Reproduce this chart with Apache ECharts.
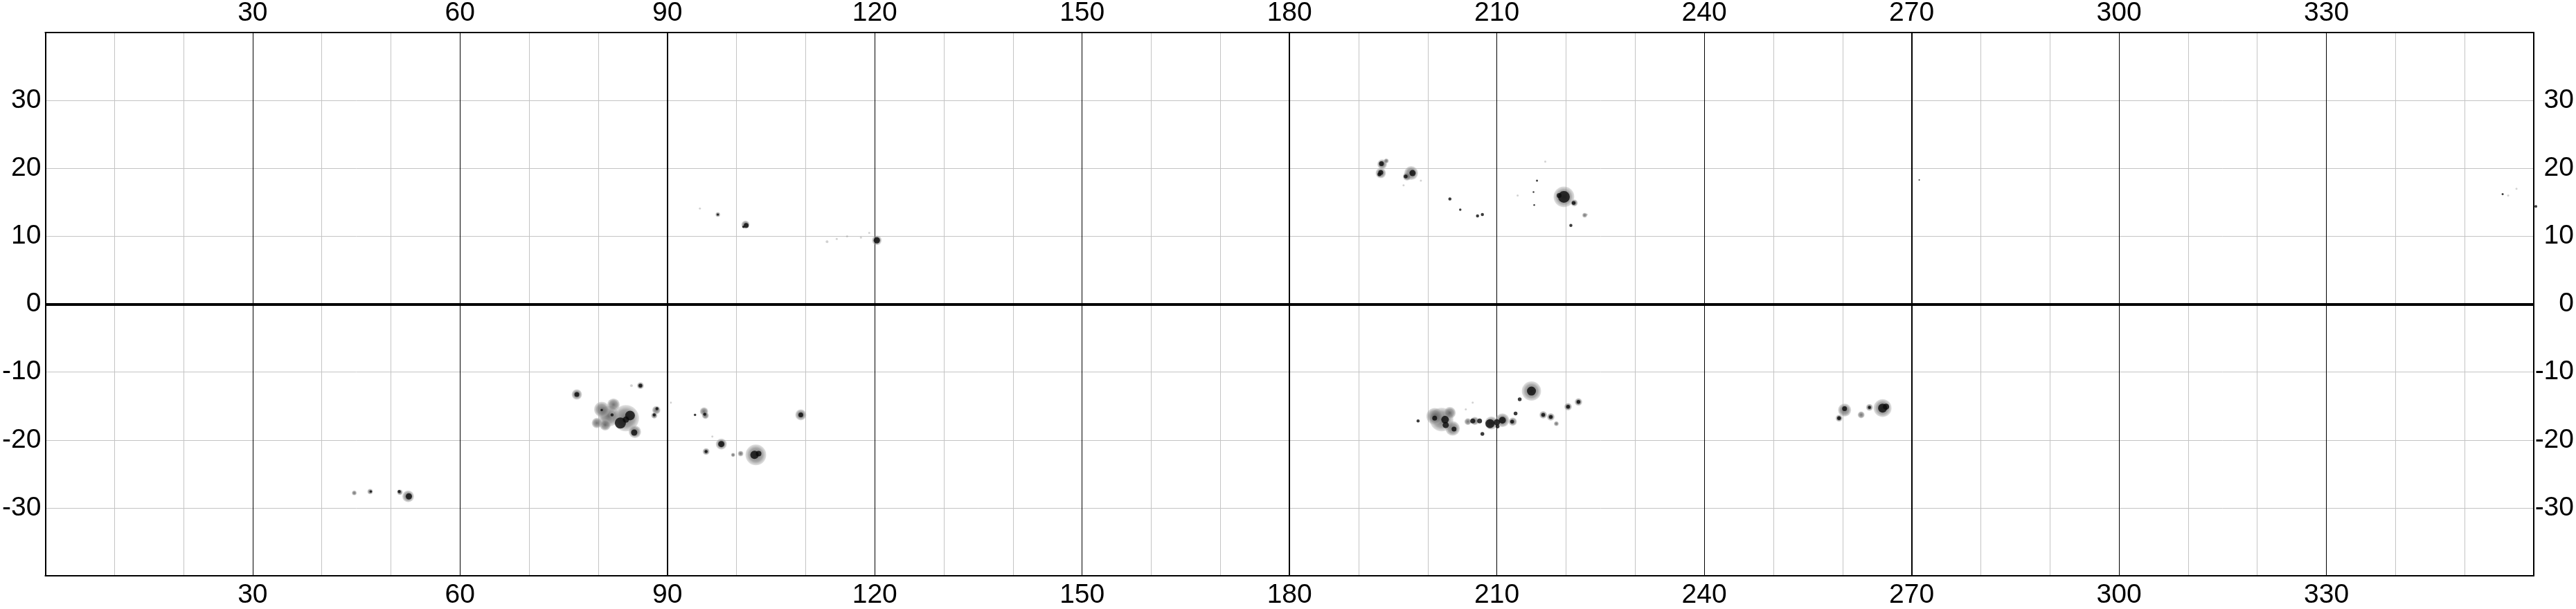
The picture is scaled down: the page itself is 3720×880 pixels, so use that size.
<!DOCTYPE html>
<html>
<head>
<meta charset="utf-8">
<script src="https://cdn.jsdelivr.net/npm/echarts@6/dist/echarts.min.js"></script>
<style>html,body{margin:0;padding:0;background:#fff;}#c{width:3720px;height:880px;}</style>
</head>
<body>
<div id="c"></div>
<script>
// ---- data (Carrington longitude, latitude, spot diameter in degrees) ----
const lonTicks = [30, 60, 90, 120, 150, 180, 210, 240, 270, 300, 330];
const latTicks = [-30, -20, -10, 0, 10, 20, 30];
const heavyMeridians = [90, 180, 270];
const equator = [0];

const penumbrae = [
  [52.5, -28.3, 1.7], [51.3, -27.7, 0.8], [47.0, -27.6, 0.8], [44.7, -27.8, 0.7],
  [76.9, -13.3, 1.5],
  [84.0, -16.8, 3.8], [81.5, -16.5, 3.0], [80.5, -15.5, 2.2], [82.2, -14.8, 1.8],
  [85.3, -18.8, 1.8], [79.8, -17.5, 1.5], [81.0, -17.8, 1.6],
  [86.1, -12.0, 1.0], [88.4, -15.6, 1.2], [88.1, -16.4, 0.9],
  [95.3, -15.8, 1.2], [95.5, -16.4, 1.0], [97.8, -20.6, 1.6], [95.6, -21.7, 1.0],
  [102.8, -22.2, 3.0], [109.3, -16.3, 1.6], [100.6, -22.0, 0.8], [99.5, -22.2, 0.6],
  [97.3, 13.2, 0.7], [101.3, 11.7, 1.2], [120.3, 9.4, 1.4],
  [193.4, 20.6, 1.4], [193.2, 19.3, 1.5], [197.6, 19.3, 2.0], [197.0, 18.8, 1.2],
  [219.7, 15.8, 3.0], [221.2, 14.9, 1.0], [222.7, 13.1, 0.7], [194.0, 21.1, 0.7],
  [202.0, -17.0, 3.4], [201.0, -16.5, 2.4], [203.6, -18.3, 2.1], [203.2, -16.0, 1.7],
  [206.8, -17.2, 1.2], [209.2, -17.5, 1.9], [210.8, -17.1, 2.0], [212.3, -17.3, 1.2], [205.8, -17.3, 1.0],
  [215.0, -12.8, 2.8], [216.7, -16.3, 1.1], [217.8, -16.6, 1.1], [218.6, -17.6, 0.7],
  [221.8, -14.4, 1.1], [220.3, -15.1, 1.1],
  [260.3, -15.6, 1.9], [259.5, -16.8, 1.0], [262.7, -16.3, 1.0], [263.9, -15.2, 1.0], [265.8, -15.3, 2.6]
];

const umbrae = [
  [52.6, -28.3, 0.9], [51.2, -27.6, 0.45], [47.1, -27.6, 0.35],
  [76.9, -13.3, 0.7],
  [83.2, -17.5, 1.6], [84.6, -16.4, 1.4], [85.2, -18.9, 0.9], [84.0, -17.0, 0.9],
  [86.1, -12.0, 0.55], [88.5, -15.4, 0.45], [88.1, -16.3, 0.45], [82.0, -16.3, 0.45], [80.5, -15.6, 0.35],
  [95.4, -16.2, 0.45], [97.8, -20.6, 0.9], [95.6, -21.7, 0.45], [102.6, -22.2, 1.2], [103.2, -22.0, 0.8],
  [109.3, -16.3, 0.7], [94.0, -16.3, 0.35],
  [101.4, 11.6, 0.7], [101.0, 11.4, 0.35], [120.3, 9.4, 0.9], [97.3, 13.2, 0.3],
  [193.3, 20.7, 0.7], [193.2, 19.4, 0.7], [193.0, 19.1, 0.55], [197.8, 19.3, 0.9], [196.8, 18.8, 0.55],
  [203.2, 15.5, 0.45], [204.7, 13.9, 0.35], [207.2, 13.0, 0.45], [207.9, 13.2, 0.45],
  [215.8, 18.2, 0.3], [215.3, 16.5, 0.25], [215.4, 14.6, 0.25],
  [219.7, 15.8, 1.7], [219.0, 16.0, 0.7], [221.1, 14.9, 0.55], [220.7, 11.6, 0.45],
  [198.6, -17.2, 0.45], [201.0, -16.8, 0.7], [202.5, -17.0, 1.1], [202.6, -17.8, 0.9], [203.8, -18.4, 0.7],
  [206.5, -17.2, 0.7], [207.5, -17.2, 0.7], [209.0, -17.6, 1.3], [210.0, -17.4, 0.9], [210.8, -17.1, 1.0],
  [212.2, -17.3, 0.55], [210.1, -18.0, 0.55], [207.9, -19.1, 0.55],
  [215.0, -12.8, 1.3], [213.3, -14.0, 0.55], [212.7, -16.1, 0.55], [216.7, -16.3, 0.55], [217.8, -16.6, 0.55],
  [221.8, -14.4, 0.55], [220.3, -15.1, 0.55],
  [259.5, -16.8, 0.55], [260.3, -15.4, 0.7], [263.9, -15.2, 0.45], [265.8, -15.3, 1.3], [266.3, -15.1, 0.9],
  [271.1, 18.3, 0.2], [355.5, 16.2, 0.3], [360.3, 14.4, 0.4]
];

const faint = [
  [84.8, -12.0, 0.4], [90.5, -14.5, 0.3], [96.5, -19.5, 0.3], [113.1, 9.2, 0.4], [116.0, 10.0, 0.3],
  [118.0, 9.8, 0.3], [119.2, 10.5, 0.3], [114.5, 9.6, 0.3], [94.7, 14.1, 0.3], [356.3, 16.0, 0.3],
  [357.5, 17.0, 0.3], [206.5, -14.5, 0.3], [205.5, -15.5, 0.3], [223.0, 13.2, 0.3], [217.0, 21.0, 0.3],
  [213.0, 16.0, 0.3], [196.5, 17.5, 0.3], [199.0, 18.2, 0.3]
];

// ---- layout ----
const GRID = { left: 60, right: 60, top: 40, bottom: 40 };
const chartW = 3720;
const pxPerDeg = (chartW - GRID.left - GRID.right) / 360;
const FONT = 'Arial, "Liberation Sans", Helvetica, sans-serif';

const chart = echarts.init(document.getElementById('c'), null, { renderer: 'canvas' });

const labelStyle = { fontSize: 39, color: '#000', fontFamily: FONT };
const lonFmt = v => (lonTicks.indexOf(v) >= 0 ? String(v) : '');
const latFmt = v => (latTicks.indexOf(v) >= 0 ? String(v) : '');

const xBase = {
  type: 'value', min: 0, max: 360, interval: 30,
  axisTick: { show: false },
  axisLine: { show: true, onZero: false, lineStyle: { color: '#000', width: 2 } },
};
const yBase = {
  type: 'value', min: -40, max: 40, interval: 10,
  axisTick: { show: false },
  axisLine: { show: true, onZero: false, lineStyle: { color: '#000', width: 2 } },
};

const sizeFn = v => Math.max(1.5, v[2] * pxPerDeg);

const option = {
  backgroundColor: '#fff',
  animation: false,
  grid: Object.assign({ containLabel: false }, GRID),
  xAxis: [
    Object.assign({}, xBase, {
      position: 'bottom',
      axisLabel: Object.assign({ margin: 9, formatter: lonFmt, showMinLabel: false, showMaxLabel: false }, labelStyle),
      splitLine: { show: true, showMinLine: false, showMaxLine: false, lineStyle: { color: '#000', width: 1 } },
      minorTick: { show: false, splitNumber: 3 },
      minorSplitLine: { show: true, lineStyle: { color: '#c4c4c4', width: 1 } }
    }),
    Object.assign({}, xBase, {
      position: 'top',
      axisLabel: Object.assign({ margin: 8, formatter: lonFmt, showMinLabel: false, showMaxLabel: false }, labelStyle),
      splitLine: { show: false }
    })
  ],
  yAxis: [
    Object.assign({}, yBase, {
      position: 'left',
      axisLabel: Object.assign({ margin: 6, formatter: latFmt, showMinLabel: false, showMaxLabel: false }, labelStyle),
      splitLine: { show: true, showMinLine: false, showMaxLine: false, lineStyle: { color: '#c4c4c4', width: 1 } }
    }),
    Object.assign({}, yBase, {
      position: 'right',
      axisLabel: Object.assign({ margin: 58, align: 'right', formatter: latFmt, showMinLabel: false, showMaxLabel: false }, labelStyle),
      splitLine: { show: false }
    })
  ],
  series: [
    {
      type: 'scatter', name: 'faint', silent: true, z: 3,
      data: faint, symbol: 'circle', symbolSize: sizeFn,
      itemStyle: { color: 'rgba(160,160,160,0.6)' },
      markLine: {
        silent: true, symbol: 'none', label: { show: false }, animation: false,
        data: heavyMeridians.map(v => ({ xAxis: v, lineStyle: { color: '#000', width: 2, type: 'solid' } }))
          .concat(equator.map(v => ({ yAxis: v, lineStyle: { color: '#000', width: 4, type: 'solid' } })))
      }
    },
    {
      type: 'scatter', name: 'penumbra', silent: true, z: 4,
      data: penumbrae, symbol: 'circle', symbolSize: sizeFn,
      itemStyle: {
        color: {
          type: 'radial', x: 0.5, y: 0.5, r: 0.5,
          colorStops: [
            { offset: 0, color: 'rgba(70,70,70,0.95)' },
            { offset: 0.65, color: 'rgba(125,125,125,0.85)' },
            { offset: 1, color: 'rgba(175,175,175,0.45)' }
          ]
        }
      }
    },
    {
      type: 'scatter', name: 'umbra', silent: true, z: 5, clip: false,
      data: umbrae, symbol: 'circle', symbolSize: sizeFn,
      itemStyle: { color: '#0a0a0a' }
    }
  ]
};
chart.setOption(option);
</script>
</body>
</html>
